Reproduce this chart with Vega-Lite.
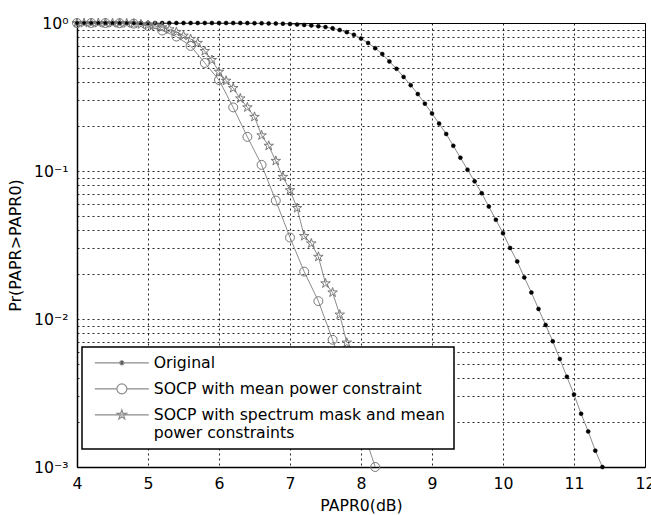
{
  "$schema": "https://vega.github.io/schema/vega-lite/v6.json",
  "width": 568,
  "height": 444,
  "autosize": {"type": "none"},
  "padding": {"left": 77, "top": 23, "right": 6, "bottom": 48},
  "background": "white",
  "config": {
    "view": {"stroke": "black", "strokeWidth": 1},
    "font": "DejaVu Sans"
  },
  "data": {
    "values": [
      {"series": "Original", "x": 4.0, "y": 1}, {"series": "Original", "x": 4.1, "y": 1}, {"series": "Original", "x": 4.2, "y": 1}, {"series": "Original", "x": 4.3, "y": 1}, {"series": "Original", "x": 4.4, "y": 1}, {"series": "Original", "x": 4.5, "y": 1}, {"series": "Original", "x": 4.6, "y": 1}, {"series": "Original", "x": 4.7, "y": 1}, {"series": "Original", "x": 4.8, "y": 1}, {"series": "Original", "x": 4.9, "y": 1},
      {"series": "Original", "x": 5.0, "y": 1}, {"series": "Original", "x": 5.1, "y": 1}, {"series": "Original", "x": 5.2, "y": 1}, {"series": "Original", "x": 5.3, "y": 1}, {"series": "Original", "x": 5.4, "y": 1}, {"series": "Original", "x": 5.5, "y": 1}, {"series": "Original", "x": 5.6, "y": 1}, {"series": "Original", "x": 5.7, "y": 1}, {"series": "Original", "x": 5.8, "y": 1}, {"series": "Original", "x": 5.9, "y": 1},
      {"series": "Original", "x": 6.0, "y": 1}, {"series": "Original", "x": 6.1, "y": 1}, {"series": "Original", "x": 6.2, "y": 1}, {"series": "Original", "x": 6.3, "y": 1}, {"series": "Original", "x": 6.4, "y": 0.999}, {"series": "Original", "x": 6.5, "y": 0.998}, {"series": "Original", "x": 6.6, "y": 0.996}, {"series": "Original", "x": 6.7, "y": 0.994}, {"series": "Original", "x": 6.8, "y": 0.992}, {"series": "Original", "x": 6.9, "y": 0.989},
      {"series": "Original", "x": 7.0, "y": 0.984}, {"series": "Original", "x": 7.1, "y": 0.977}, {"series": "Original", "x": 7.2, "y": 0.970}, {"series": "Original", "x": 7.3, "y": 0.962}, {"series": "Original", "x": 7.4, "y": 0.951}, {"series": "Original", "x": 7.5, "y": 0.938}, {"series": "Original", "x": 7.6, "y": 0.920}, {"series": "Original", "x": 7.7, "y": 0.897}, {"series": "Original", "x": 7.8, "y": 0.867}, {"series": "Original", "x": 7.9, "y": 0.832},
      {"series": "Original", "x": 8.0, "y": 0.785}, {"series": "Original", "x": 8.1, "y": 0.733}, {"series": "Original", "x": 8.2, "y": 0.676}, {"series": "Original", "x": 8.3, "y": 0.617}, {"series": "Original", "x": 8.4, "y": 0.550}, {"series": "Original", "x": 8.5, "y": 0.490}, {"series": "Original", "x": 8.6, "y": 0.432}, {"series": "Original", "x": 8.7, "y": 0.380}, {"series": "Original", "x": 8.8, "y": 0.331}, {"series": "Original", "x": 8.9, "y": 0.285},
      {"series": "Original", "x": 9.0, "y": 0.245}, {"series": "Original", "x": 9.1, "y": 0.209}, {"series": "Original", "x": 9.2, "y": 0.178}, {"series": "Original", "x": 9.3, "y": 0.148}, {"series": "Original", "x": 9.4, "y": 0.123}, {"series": "Original", "x": 9.5, "y": 0.102}, {"series": "Original", "x": 9.6, "y": 0.0851}, {"series": "Original", "x": 9.7, "y": 0.0708}, {"series": "Original", "x": 9.8, "y": 0.0575}, {"series": "Original", "x": 9.9, "y": 0.0468},
      {"series": "Original", "x": 10.0, "y": 0.0380}, {"series": "Original", "x": 10.1, "y": 0.0302}, {"series": "Original", "x": 10.2, "y": 0.0245}, {"series": "Original", "x": 10.3, "y": 0.0191}, {"series": "Original", "x": 10.4, "y": 0.0151}, {"series": "Original", "x": 10.5, "y": 0.0117}, {"series": "Original", "x": 10.6, "y": 0.00912}, {"series": "Original", "x": 10.7, "y": 0.00708}, {"series": "Original", "x": 10.8, "y": 0.00537}, {"series": "Original", "x": 10.9, "y": 0.00407},
      {"series": "Original", "x": 11.0, "y": 0.00309}, {"series": "Original", "x": 11.1, "y": 0.00229}, {"series": "Original", "x": 11.2, "y": 0.00174}, {"series": "Original", "x": 11.3, "y": 0.00129}, {"series": "Original", "x": 11.4, "y": 0.0010},

      {"series": "SOCP with mean power constraint", "x": 4.0, "y": 1}, {"series": "SOCP with mean power constraint", "x": 4.2, "y": 1}, {"series": "SOCP with mean power constraint", "x": 4.4, "y": 0.999}, {"series": "SOCP with mean power constraint", "x": 4.6, "y": 0.997}, {"series": "SOCP with mean power constraint", "x": 4.8, "y": 0.99}, {"series": "SOCP with mean power constraint", "x": 5.0, "y": 0.955}, {"series": "SOCP with mean power constraint", "x": 5.2, "y": 0.89}, {"series": "SOCP with mean power constraint", "x": 5.4, "y": 0.81}, {"series": "SOCP with mean power constraint", "x": 5.6, "y": 0.70}, {"series": "SOCP with mean power constraint", "x": 5.8, "y": 0.537}, {"series": "SOCP with mean power constraint", "x": 6.0, "y": 0.412},
      {"series": "SOCP with mean power constraint", "x": 6.2, "y": 0.269}, {"series": "SOCP with mean power constraint", "x": 6.4, "y": 0.170}, {"series": "SOCP with mean power constraint", "x": 6.6, "y": 0.110}, {"series": "SOCP with mean power constraint", "x": 6.8, "y": 0.0631}, {"series": "SOCP with mean power constraint", "x": 7.0, "y": 0.0355}, {"series": "SOCP with mean power constraint", "x": 7.2, "y": 0.0209}, {"series": "SOCP with mean power constraint", "x": 7.4, "y": 0.0132}, {"series": "SOCP with mean power constraint", "x": 7.6, "y": 0.00724}, {"series": "SOCP with mean power constraint", "x": 7.8, "y": 0.00372}, {"series": "SOCP with mean power constraint", "x": 8.0, "y": 0.00195}, {"series": "SOCP with mean power constraint", "x": 8.2, "y": 0.0010},

      {"series": "SOCP with spectrum mask and mean power constraints", "x": 4.0, "y": 1}, {"series": "SOCP with spectrum mask and mean power constraints", "x": 4.1, "y": 1}, {"series": "SOCP with spectrum mask and mean power constraints", "x": 4.2, "y": 1}, {"series": "SOCP with spectrum mask and mean power constraints", "x": 4.3, "y": 1}, {"series": "SOCP with spectrum mask and mean power constraints", "x": 4.4, "y": 0.999}, {"series": "SOCP with spectrum mask and mean power constraints", "x": 4.5, "y": 0.999}, {"series": "SOCP with spectrum mask and mean power constraints", "x": 4.6, "y": 0.998}, {"series": "SOCP with spectrum mask and mean power constraints", "x": 4.7, "y": 0.995}, {"series": "SOCP with spectrum mask and mean power constraints", "x": 4.8, "y": 0.99}, {"series": "SOCP with spectrum mask and mean power constraints", "x": 4.9, "y": 0.98},
      {"series": "SOCP with spectrum mask and mean power constraints", "x": 5.0, "y": 0.97}, {"series": "SOCP with spectrum mask and mean power constraints", "x": 5.1, "y": 0.955}, {"series": "SOCP with spectrum mask and mean power constraints", "x": 5.2, "y": 0.935}, {"series": "SOCP with spectrum mask and mean power constraints", "x": 5.3, "y": 0.905}, {"series": "SOCP with spectrum mask and mean power constraints", "x": 5.4, "y": 0.87}, {"series": "SOCP with spectrum mask and mean power constraints", "x": 5.5, "y": 0.82}, {"series": "SOCP with spectrum mask and mean power constraints", "x": 5.6, "y": 0.78}, {"series": "SOCP with spectrum mask and mean power constraints", "x": 5.7, "y": 0.733}, {"series": "SOCP with spectrum mask and mean power constraints", "x": 5.8, "y": 0.646}, {"series": "SOCP with spectrum mask and mean power constraints", "x": 5.9, "y": 0.562},
      {"series": "SOCP with spectrum mask and mean power constraints", "x": 6.0, "y": 0.468}, {"series": "SOCP with spectrum mask and mean power constraints", "x": 6.1, "y": 0.407}, {"series": "SOCP with spectrum mask and mean power constraints", "x": 6.2, "y": 0.363}, {"series": "SOCP with spectrum mask and mean power constraints", "x": 6.3, "y": 0.309}, {"series": "SOCP with spectrum mask and mean power constraints", "x": 6.4, "y": 0.269}, {"series": "SOCP with spectrum mask and mean power constraints", "x": 6.5, "y": 0.232}, {"series": "SOCP with spectrum mask and mean power constraints", "x": 6.6, "y": 0.174}, {"series": "SOCP with spectrum mask and mean power constraints", "x": 6.7, "y": 0.148}, {"series": "SOCP with spectrum mask and mean power constraints", "x": 6.8, "y": 0.117}, {"series": "SOCP with spectrum mask and mean power constraints", "x": 6.9, "y": 0.0912},
      {"series": "SOCP with spectrum mask and mean power constraints", "x": 7.0, "y": 0.0741}, {"series": "SOCP with spectrum mask and mean power constraints", "x": 7.1, "y": 0.0562}, {"series": "SOCP with spectrum mask and mean power constraints", "x": 7.2, "y": 0.0363}, {"series": "SOCP with spectrum mask and mean power constraints", "x": 7.3, "y": 0.0324}, {"series": "SOCP with spectrum mask and mean power constraints", "x": 7.4, "y": 0.0263}, {"series": "SOCP with spectrum mask and mean power constraints", "x": 7.5, "y": 0.0174}, {"series": "SOCP with spectrum mask and mean power constraints", "x": 7.6, "y": 0.0151}, {"series": "SOCP with spectrum mask and mean power constraints", "x": 7.7, "y": 0.0107}, {"series": "SOCP with spectrum mask and mean power constraints", "x": 7.8, "y": 0.00692}
    ]
  },
  "encoding": {
    "x": {
      "field": "x", "type": "quantitative",
      "scale": {"domain": [4, 12], "nice": false, "zero": false},
      "axis": {
        "values": [4, 5, 6, 7, 8, 9, 10, 11, 12],
        "title": "PAPR0(dB)",
        "grid": true, "gridColor": "black", "gridDash": [2, 3], "gridOpacity": 0.85, "gridWidth": 1,
        "ticks": false, "domainColor": "black", "domainWidth": 1.5,
        "labelFont": "DejaVu Sans", "labelFontSize": 15.7, "labelColor": "black", "labelPadding": 9,
        "labelFlush": false, "labelOverlap": false,
        "titleFont": "DejaVu Sans", "titleFontSize": 15.7, "titleFontWeight": "normal", "titleColor": "black", "titlePadding": 8
      }
    },
    "y": {
      "field": "y", "type": "quantitative",
      "scale": {"type": "log", "domain": [0.001, 1], "nice": false},
      "axis": {
        "values": [0.001, 0.002, 0.003, 0.004, 0.005, 0.006, 0.007, 0.008, 0.009, 0.01, 0.02, 0.03, 0.04, 0.05, 0.06, 0.07, 0.08, 0.09, 0.1, 0.2, 0.3, 0.4, 0.5, 0.6, 0.7, 0.8, 0.9, 1],
        "labelExpr": "datum.value == 1 ? '10⁰' : datum.value == 0.1 ? '10⁻¹' : datum.value == 0.01 ? '10⁻²' : datum.value == 0.001 ? '10⁻³' : ''",
        "title": "Pr(PAPR>PAPR0)",
        "grid": true, "gridColor": "black", "gridDash": [2, 3], "gridOpacity": 0.85, "gridWidth": 1,
        "ticks": false, "domainColor": "black", "domainWidth": 1.5,
        "labelFont": "DejaVu Sans", "labelFontSize": 15.7, "labelColor": "black", "labelPadding": 9,
        "labelFlush": false, "labelOverlap": false, "labelBound": false,
        "titleFont": "DejaVu Sans", "titleFontSize": 16, "titleFontWeight": "normal", "titleColor": "black", "titlePadding": 10
      }
    }
  },
  "layer": [
    {
      "mark": {"type": "line", "strokeWidth": 1},
      "encoding": {
        "color": {
          "field": "series", "type": "nominal",
          "scale": {"domain": ["Original", "SOCP with mean power constraint", "SOCP with spectrum mask and mean power constraints"], "range": ["#8c8c8c", "#8c8c8c", "#8c8c8c"]},
          "legend": {
            "title": null, "orient": "none", "legendX": 5, "legendY": 324,
            "strokeColor": "black", "fillColor": "white", "padding": 8,
            "symbolSize": 100, "symbolStrokeWidth": 1.2, "rowPadding": 9, "labelOffset": 48,
            "labelFont": "DejaVu Sans", "labelFontSize": 15.7, "labelColor": "black", "labelLimit": 400,
            "labelExpr": "datum.label === 'SOCP with spectrum mask and mean power constraints' ? ['SOCP with spectrum mask and mean', 'power constraints'] : datum.label",
            "encode": {
              "legend": {"update": {"strokeWidth": {"value": 1.5}}},
              "labels": {"update": {"lineHeight": {"value": 18}}},
              "symbols": {"update": {
                "shape": {"signal": "datum.value === 'Original' ? 'M-0.6,0L10.2,0M4.4,0A0.4,0.4 0 1,0 5.2,0A0.4,0.4 0 1,0 4.4,0Z' : datum.value === 'SOCP with mean power constraint' ? 'M-0.6,0L3.8,0M5.8,0L10.2,0M3.8,0A1,1 0 1,0 5.8,0A1,1 0 1,0 3.8,0Z' : 'M-0.6,0L10.2,0M4.8,-1L5.025,-0.309L5.751,-0.309L5.163,0.118L5.388,0.809L4.8,0.382L4.212,0.809L4.437,0.118L3.849,-0.309L4.575,-0.309Z'"},
                "stroke": {"signal": "datum.value === 'Original' ? 'black' : '#777777'"},
                "fill": {"signal": "datum.value === 'Original' ? 'black' : 'white'"},
                "strokeWidth": {"value": 1.2},
                "opacity": {"value": 1}
              }}
            }
          }
        }
      }
    },
    {
      "transform": [{"filter": "datum.series === 'Original'"}],
      "mark": {"type": "point", "shape": "circle", "size": 16, "filled": true, "fill": "black", "stroke": "black", "strokeWidth": 0.5, "opacity": 1},
      "encoding": {}
    },
    {
      "transform": [{"filter": "datum.series === 'SOCP with mean power constraint'"}],
      "mark": {"type": "point", "shape": "circle", "size": 80, "filled": false, "fill": "transparent", "stroke": "#777777", "strokeWidth": 1, "opacity": 1},
      "encoding": {}
    },
    {
      "transform": [{"filter": "datum.series === 'SOCP with spectrum mask and mean power constraints'"}],
      "mark": {"type": "point", "shape": "M0,-1L0.225,-0.309L0.951,-0.309L0.363,0.118L0.588,0.809L0,0.382L-0.588,0.809L-0.363,0.118L-0.951,-0.309L-0.225,-0.309Z", "size": 100, "filled": false, "fill": "transparent", "stroke": "#777777", "strokeWidth": 1, "opacity": 1},
      "encoding": {}
    }
  ]
}
